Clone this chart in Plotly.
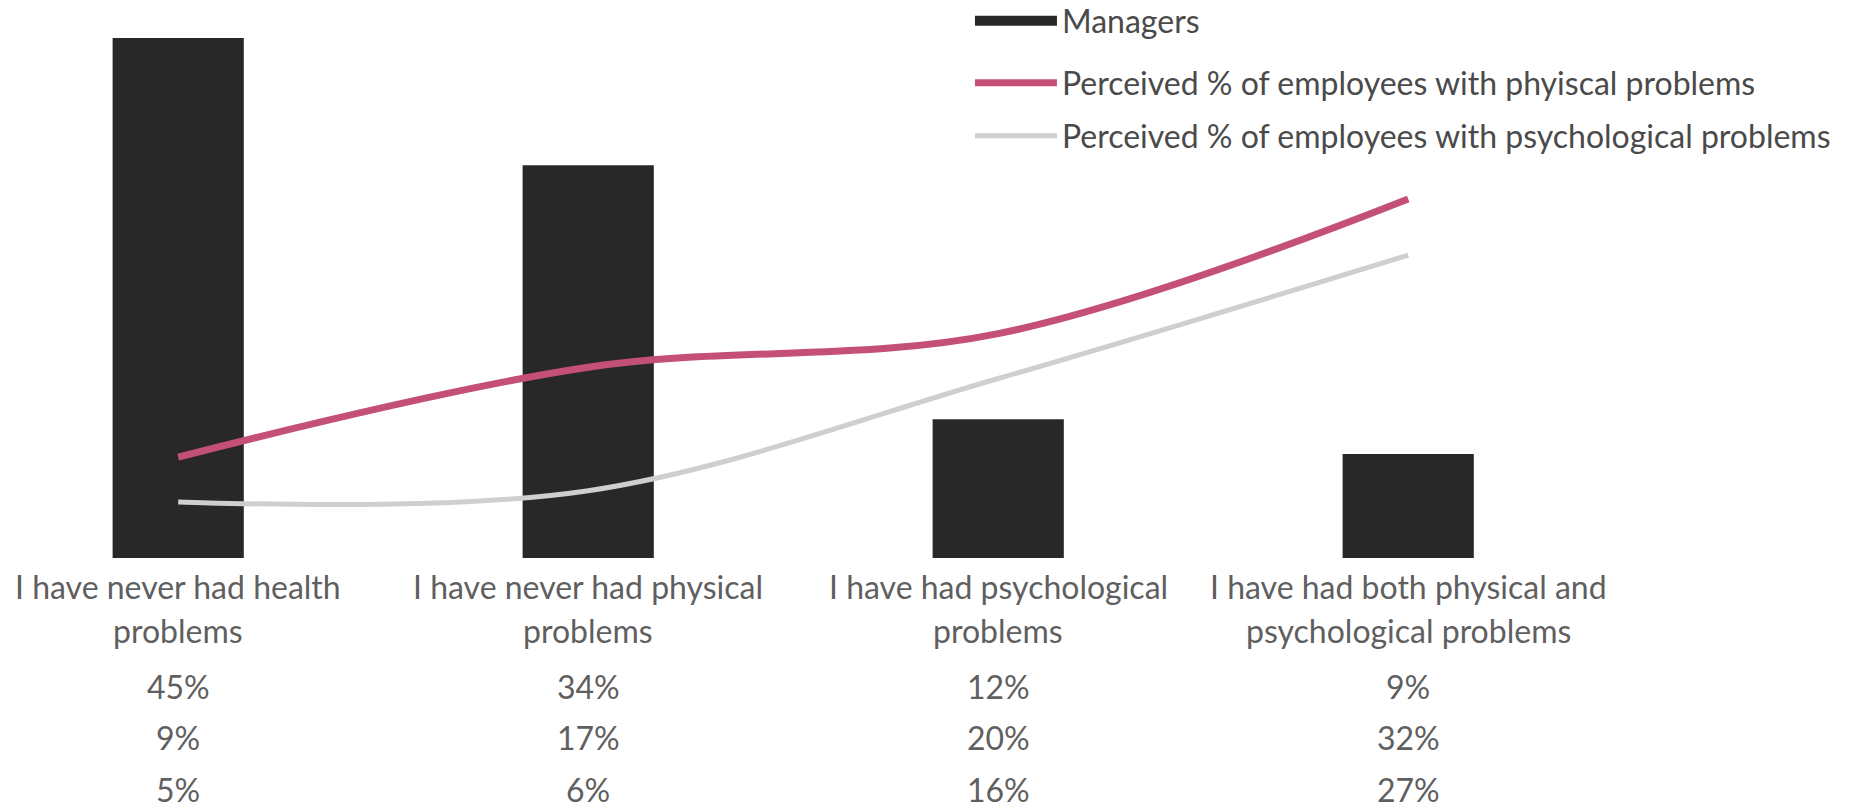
import plotly.graph_objects as go

# Survey categories (two display lines each)
categories = [
    "I have never had health problems",
    "I have never had physical problems",
    "I have had psychological problems",
    "I have had both physical and psychological problems",
]
category_lines = [
    ["I have never had health", "problems"],
    ["I have never had physical", "problems"],
    ["I have had psychological", "problems"],
    ["I have had both physical and", "psychological problems"],
]

managers = [45, 34, 12, 9]
perceived_physical = [9, 17, 20, 32]
perceived_psychological = [5, 6, 16, 27]

series_names = [
    "Managers",
    "Perceived % of employees with phyiscal problems",
    "Perceived % of employees with psychological problems",
]

BAR_COLOR = "#282828"
PINK = "#C4507A"
GREY = "#CFCFCF"
FONT = "Lato"
TEXT_GREY = "#5f5f5f"
FONT_SIZE = 32

fig = go.Figure()

fig.add_trace(go.Bar(
    x=categories, y=managers, name=series_names[0],
    marker=dict(color=BAR_COLOR, line=dict(width=0)),
    width=0.32, showlegend=False,
))
# wide dark swatch for the bar series legend entry
fig.add_trace(go.Scatter(
    x=[None], y=[None], mode="lines", name=series_names[0],
    line=dict(color=BAR_COLOR, width=16), legend="legend",
))
# perceived percentages sit on a secondary axis
fig.add_trace(go.Scatter(
    x=categories, y=perceived_physical, mode="lines", name=series_names[1],
    line=dict(color=PINK, width=7, shape="spline", smoothing=1.0),
    legend="legend2", yaxis="y2",
))
fig.add_trace(go.Scatter(
    x=categories, y=perceived_psychological, mode="lines", name=series_names[2],
    line=dict(color=GREY, width=5, shape="spline", smoothing=1.0),
    legend="legend3", yaxis="y2",
))

# data table underneath the axis
annotations = []
label_offsets = [28, 72]
row_offsets = [128, 179, 231]
rows = [managers, perceived_physical, perceived_psychological]
for i, cat in enumerate(categories):
    for line, off in zip(category_lines[i], label_offsets):
        annotations.append(dict(
            x=cat, xref="x", y=0, yref="paper", yshift=-off,
            text=line, showarrow=False, yanchor="middle", xanchor="center",
            font=dict(family=FONT, size=FONT_SIZE, color=TEXT_GREY),
        ))
    for row, off in zip(rows, row_offsets):
        annotations.append(dict(
            x=cat, xref="x", y=0, yref="paper", yshift=-off,
            text=f"{row[i]}%", showarrow=False, yanchor="middle", xanchor="center",
            font=dict(family=FONT, size=FONT_SIZE, color=TEXT_GREY),
        ))

legend_common = dict(
    xanchor="left", yanchor="middle", bgcolor="rgba(255,255,255,0)",
    borderwidth=0, itemwidth=82,
    font=dict(family=FONT, size=FONT_SIZE, color="#4a4a4a"),
)
lx = 0.5205
plot_h = 528
base = 558

fig.update_layout(
    width=1864, height=811,
    margin=dict(l=6, r=6, t=30, b=253, autoexpand=False),
    paper_bgcolor="white", plot_bgcolor="white",
    xaxis=dict(
        type="category", range=[-0.42, 4.097],
        showticklabels=False, showgrid=False, zeroline=False, showline=False, ticks="",
    ),
    yaxis=dict(range=[0, 45.7], visible=False, showgrid=False, zeroline=False),
    yaxis2=dict(range=[0, 47.06], visible=False, showgrid=False, zeroline=False,
                overlaying="y", side="right"),
    legend=dict(x=lx, y=(base - 21) / plot_h, **legend_common),
    legend2=dict(x=lx, y=(base - 83) / plot_h, **legend_common),
    legend3=dict(x=lx, y=(base - 136) / plot_h, **legend_common),
    annotations=annotations,
    font=dict(family=FONT),
)

fig.write_html("out.html")
